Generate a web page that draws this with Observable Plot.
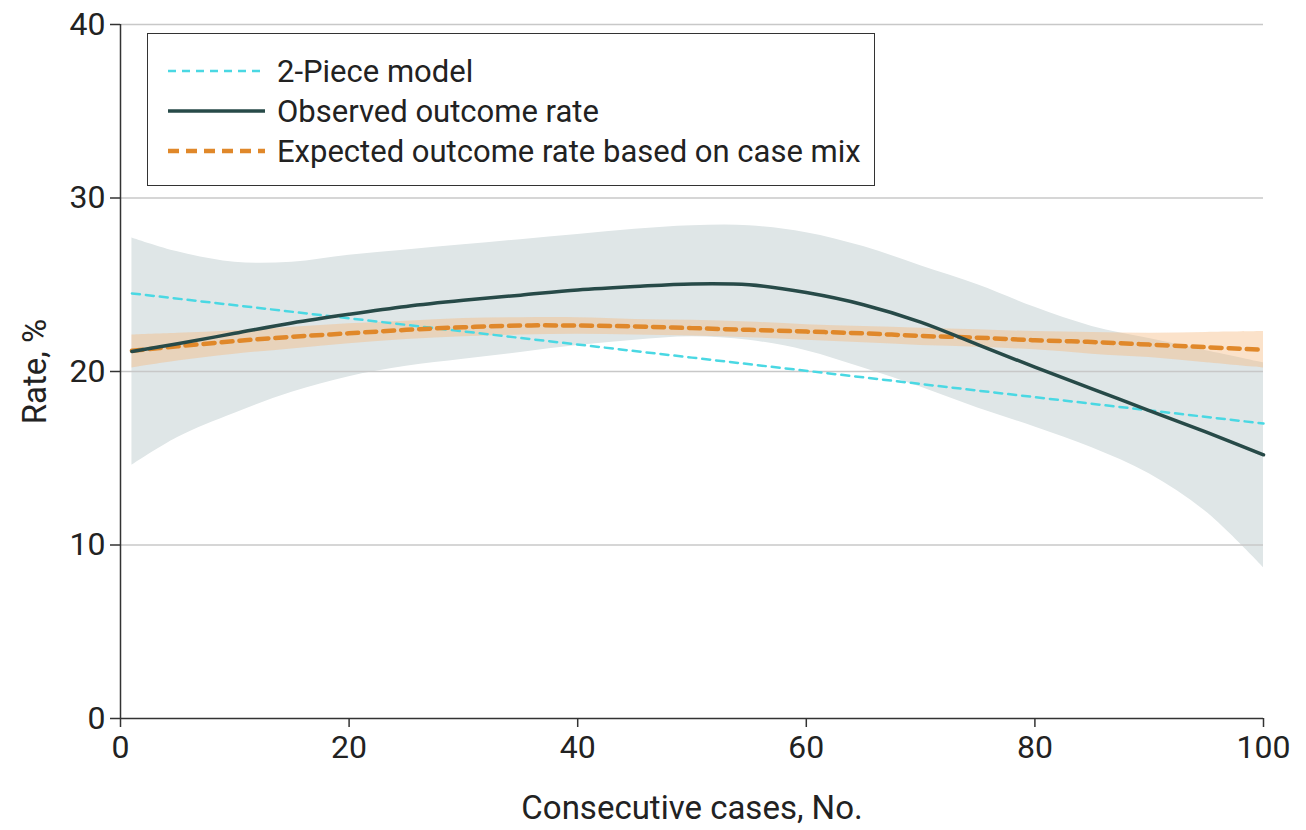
<!DOCTYPE html>
<html>
<head>
<meta charset="utf-8">
<script src="https://cdn.jsdelivr.net/npm/d3@7"></script>
<script src="https://cdn.jsdelivr.net/npm/@observablehq/plot@0.6"></script>
<style>
  html, body { margin: 0; padding: 0; background: #fff; }
  #wrap { position: relative; width: 1306px; height: 830px; font-family: Roboto, "Liberation Sans", sans-serif; }
  #legend { position: absolute; left: 147px; top: 33px; width: 726px; height: 151px; border: 1.5px solid #333; background: #fff; box-sizing: content-box; }
  .row { position: absolute; left: 20px; height: 40px; display: flex; align-items: center; font-size: 31px; color: #222; }
  .row svg { margin-right: 12px; }
</style>
</head>
<body>
<div id="wrap"><div id="chart"></div>
  <div id="legend"></div>
</div>
<script>
// Case index
const cases = [1, 5, 10, 15, 20, 25, 30, 35, 40, 45, 50, 55, 60, 65, 70, 75, 80, 85, 90, 95, 100];
// Observed outcome rate (%)
const observed = [21.15, 21.6, 22.2, 22.8, 23.3, 23.75, 24.1, 24.4, 24.7, 24.9, 25.05, 25.0, 24.55, 23.85, 22.85, 21.55, 20.25, 19.0, 17.75, 16.5, 15.2];
const observedUpper = [27.7, 26.9, 26.3, 26.3, 26.7, 27.0, 27.3, 27.6, 27.9, 28.2, 28.4, 28.4, 28.0, 27.2, 26.1, 25.0, 23.7, 22.6, 21.9, 21.2, 20.5];
const observedLower = [14.6, 16.2, 17.6, 18.8, 19.7, 20.3, 20.7, 21.1, 21.5, 21.8, 22.0, 21.8, 21.2, 20.2, 19.1, 17.9, 16.8, 15.6, 14.1, 11.9, 8.7];
// Expected outcome rate based on case mix (%)
const expected = [21.2, 21.45, 21.75, 22.0, 22.2, 22.4, 22.55, 22.65, 22.65, 22.6, 22.5, 22.4, 22.3, 22.2, 22.05, 21.95, 21.8, 21.7, 21.55, 21.4, 21.25];
const expectedUpper = [22.1, 22.2, 22.35, 22.55, 22.75, 22.9, 23.05, 23.1, 23.1, 23.0, 22.95, 22.85, 22.7, 22.6, 22.5, 22.4, 22.3, 22.25, 22.2, 22.25, 22.3];
const expectedLower = [20.2, 20.6, 21.0, 21.3, 21.6, 21.85, 22.0, 22.1, 22.15, 22.1, 22.05, 21.95, 21.8, 21.65, 21.5, 21.4, 21.25, 21.0, 20.8, 20.5, 20.2];
// 2-piece model
const pieceX = [1, 50, 100];
const pieceY = [24.5, 20.8, 17.0];
// Ticks
const xTicks = [0, 20, 40, 60, 80, 100];
const yTicks = [0, 10, 20, 30, 40];
const gridTicks = [10, 20, 30, 40];

const series = [
  {label: "2-Piece model", color: "#4ad8e3", width: 2.5, dash: "8,6"},
  {label: "Observed outcome rate", color: "#274a48", width: 3.5, dash: null},
  {label: "Expected outcome rate based on case mix", color: "#e0882a", width: 4.5, dash: "11,7"}
];

const rows = cases.map((c, i) => ({
  x: c, obs: observed[i], oLo: observedLower[i], oHi: observedUpper[i],
  exp: expected[i], eLo: expectedLower[i], eHi: expectedUpper[i]
}));
const piece = pieceX.map((x, i) => ({x, y: pieceY[i]}));

const chart = Plot.plot({
  width: 1306,
  height: 830,
  marginLeft: 120,
  marginRight: 43,
  marginTop: 24,
  marginBottom: 112,
  style: {fontFamily: "Roboto, 'Liberation Sans', sans-serif", fontSize: "31px", color: "#222", background: "#fff"},
  x: {domain: [0, 100]},
  y: {domain: [0, 40]},
  marks: [
    Plot.areaY(rows, {x: "x", y1: "oLo", y2: "oHi", fill: "#dfe6e7", curve: "catmull-rom"}),
    Plot.areaY(rows, {x: "x", y1: "eLo", y2: "eHi", fill: "#f5b77a", fillOpacity: 0.4, curve: "catmull-rom"}),
    Plot.gridY(gridTicks, {stroke: "#c8c8c8", strokeOpacity: 1, strokeWidth: 1.5}),
    Plot.line(piece, {x: "x", y: "y", stroke: series[0].color, strokeWidth: series[0].width, strokeDasharray: series[0].dash}),
    Plot.line(rows, {x: "x", y: "exp", stroke: series[2].color, strokeWidth: series[2].width, strokeDasharray: series[2].dash, curve: "catmull-rom"}),
    Plot.line(rows, {x: "x", y: "obs", stroke: series[1].color, strokeWidth: series[1].width, curve: "catmull-rom"}),
    Plot.ruleY([0], {stroke: "#333", strokeWidth: 1.5}),
    Plot.ruleX([0], {stroke: "#333", strokeWidth: 1.5}),
    Plot.axisX(xTicks, {tickSize: 9, tickPadding: 8, stroke: "#333", strokeWidth: 1.5, fontSize: 32, label: null}),
    Plot.axisX({ticks: [], label: "Consecutive cases, No.", labelAnchor: "center", labelOffset: 100, labelArrow: "none", fontSize: 33}),
    Plot.axisY(yTicks, {tickSize: 10, tickPadding: 5, stroke: "#333", strokeWidth: 1.5, fontSize: 32, label: null}),
    Plot.axisY({ticks: [], label: "Rate, %", labelAnchor: "center", labelOffset: 98, labelArrow: "none", fontSize: 33})
  ]
});
document.getElementById("chart").appendChild(chart);

const legend = document.getElementById("legend");
series.forEach((s, i) => {
  const row = document.createElement("div");
  row.className = "row";
  row.style.top = (17 + i * 40) + "px";
  const ns = "http://www.w3.org/2000/svg";
  const svg = document.createElementNS(ns, "svg");
  svg.setAttribute("width", 97); svg.setAttribute("height", 10);
  const ln = document.createElementNS(ns, "line");
  ln.setAttribute("x1", 0); ln.setAttribute("x2", 97); ln.setAttribute("y1", 5); ln.setAttribute("y2", 5);
  ln.setAttribute("stroke", s.color); ln.setAttribute("stroke-width", s.width);
  if (s.dash) ln.setAttribute("stroke-dasharray", s.dash);
  svg.appendChild(ln);
  row.appendChild(svg);
  const t = document.createElement("span");
  t.textContent = s.label;
  row.appendChild(t);
  legend.appendChild(row);
});
</script>
</body>
</html>
